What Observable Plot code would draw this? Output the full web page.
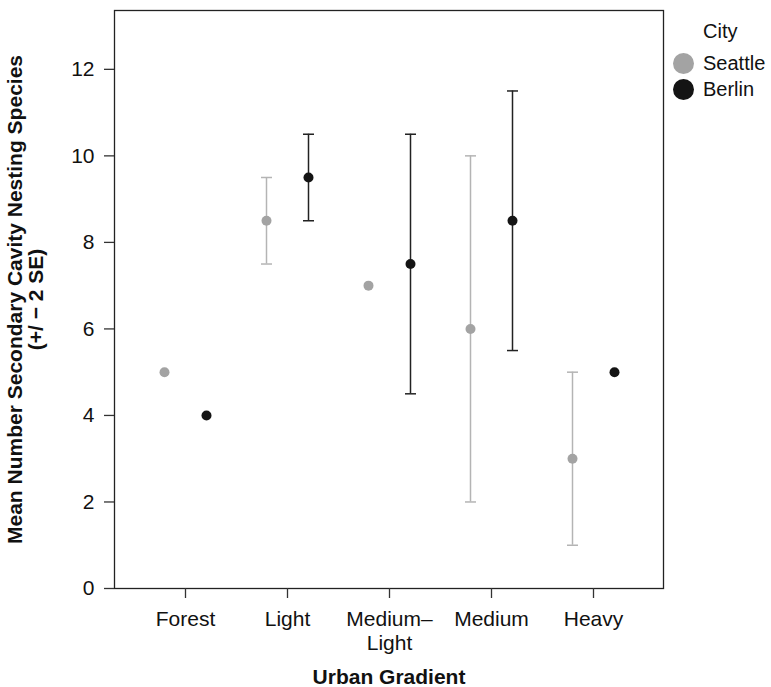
<!DOCTYPE html>
<html><head><meta charset="utf-8">
<script src="https://cdn.jsdelivr.net/npm/d3@7"></script>
<script src="https://cdn.jsdelivr.net/npm/@observablehq/plot@0.6"></script>
<style>
body{margin:0;background:#fff;font-family:"Liberation Sans",Arial,Helvetica,sans-serif;}
#wrap{position:relative;width:771px;height:687px;}
#legend{position:absolute;left:673px;top:21px;font-size:20px;color:#111;line-height:1;}
#legend .title{margin-left:30px;margin-bottom:9px;height:20px;}
#legend .row{display:flex;align-items:center;height:26px;}
#legend .sw{width:21px;height:21px;border-radius:50%;margin-right:9px;}
</style></head><body><div id="wrap"></div>
<script>
const categories = ["Forest", "Light", "Medium–\nLight", "Medium", "Heavy"];
const cities = ["Seattle", "Berlin"];
const cityColors = ["#a3a3a3", "#141414"];
const barColors = ["#b4b4b4", "#222222"];
const seattleMean = [5, 8.5, 7, 6, 3];
const seattleLow  = [null, 7.5, null, 2, 1];
const seattleHigh = [null, 9.5, null, 10, 5];
const berlinMean  = [4, 9.5, 7.5, 8.5, 5];
const berlinLow   = [null, 8.5, 4.5, 5.5, null];
const berlinHigh  = [null, 10.5, 10.5, 11.5, null];
const yTicks = [0, 2, 4, 6, 8, 10, 12];
const xTitle = "Urban Gradient";
const yTitle = "Mean Number Secondary Cavity Nesting Species\n(+/ − 2 SE)";
const legendTitle = "City";

const series = {
  Seattle: {mean: seattleMean, low: seattleLow, high: seattleHigh},
  Berlin: {mean: berlinMean, low: berlinLow, high: berlinHigh}
};
const rows = [];
cities.forEach(city => categories.forEach((cat, i) => rows.push({
  city, cat, mean: series[city].mean[i], low: series[city].low[i], high: series[city].high[i]
})));

const cap = {draw(ctx, size) { const w = Math.sqrt(size / Math.PI); ctx.moveTo(-w, 0); ctx.lineTo(w, 0); }};
const dodge = [-21, 21];

const marks = [];
cities.forEach((city, k) => {
  const d = rows.filter(r => r.city === city);
  const dx = dodge[k];
  marks.push(
    Plot.ruleX(d, {x: "cat", y1: "low", y2: "high", stroke: barColors[k], strokeWidth: 1.5, dx}),
    Plot.dot(d, {x: "cat", y: "low", symbol: cap, r: 5.5, fill: "none", stroke: barColors[k], strokeWidth: 1.5, dx}),
    Plot.dot(d, {x: "cat", y: "high", symbol: cap, r: 5.5, fill: "none", stroke: barColors[k], strokeWidth: 1.5, dx}),
    Plot.dot(d, {x: "cat", y: "mean", r: 5, fill: cityColors[k], stroke: "none", dx})
  );
});

const chart = Plot.plot({
  width: 771, height: 687,
  marginLeft: 114, marginRight: 108, marginTop: 10, marginBottom: 99,
  style: {fontSize: "21px", fontFamily: '"Liberation Sans", Arial, Helvetica, sans-serif', color: "#111", background: "#fff", overflow: "visible"},
  x: {type: "point", domain: categories, padding: 0.68},
  y: {domain: [0, 13.36]},
  marks: [
    ...marks,
    Plot.frame({stroke: "#222", strokeWidth: 1.3}),
    Plot.axisY({ticks: yTicks, tickSize: 10, tickPadding: 10, label: null, stroke: "#333", strokeWidth: 1.3}),
    Plot.axisX({tickSize: 10, tickPadding: 10, label: null, lineHeight: 1.15, stroke: "#333", strokeWidth: 1.3}),
    Plot.axisY({ticks: [], label: yTitle, labelAnchor: "center", labelOffset: 107, labelArrow: "none", fontWeight: "bold", lineHeight: 1.12}),
    Plot.axisX({ticks: [], label: xTitle, labelAnchor: "center", labelOffset: 95, labelArrow: "none", fontWeight: "bold"})
  ]
});
const wrap = document.getElementById("wrap");
wrap.appendChild(chart);

const legend = document.createElement("div");
legend.id = "legend";
legend.innerHTML = `<div class="title">${legendTitle}</div>` +
  cities.map((c, k) => `<div class="row"><span class="sw" style="background:${cityColors[k]}"></span><span>${c}</span></div>`).join("");
wrap.appendChild(legend);
</script></body></html>
